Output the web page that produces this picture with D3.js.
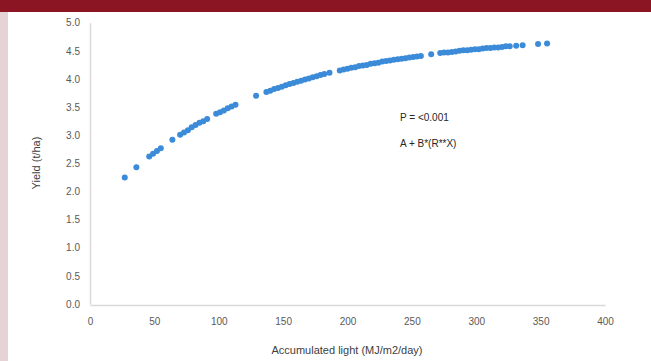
<!DOCTYPE html>
<html>
<head>
<meta charset="utf-8">
<script src="https://cdn.jsdelivr.net/npm/d3@7"></script>
<style>
  body { margin: 0; background: #fff; }
  text { font-family: "Liberation Sans", Arial, sans-serif; }
</style>
</head>
<body>
<div id="svg"></div>
<script>
// accumulated light (MJ/m2/day)
let lightValues = [27, 36, 46, 49, 52, 55, 64, 70, 73, 76, 79, 82, 85, 88, 91,
  98, 101, 104, 107, 110, 113, 129, 137, 140, 143, 146, 149, 152, 155, 158,
  161, 164, 167, 170, 173, 176, 179, 182, 186, 194, 197, 200, 203, 206, 209,
  212, 215, 218, 221, 224, 227, 230, 233, 236, 239, 242, 245, 248, 251, 254,
  257, 265, 272, 275, 278, 281, 284, 287, 290, 293, 296, 299, 302, 305, 308,
  311, 314, 317, 320, 323, 326, 331, 336, 348, 355];
// yield (t/ha)
let yieldValues = [2.25, 2.43, 2.62, 2.67, 2.72, 2.77, 2.92, 3.01, 3.05, 3.09, 3.14, 3.18, 3.22, 3.25, 3.29,
  3.38, 3.41, 3.44, 3.48, 3.51, 3.54, 3.70, 3.77, 3.79, 3.82, 3.84, 3.86, 3.89, 3.91, 3.93,
  3.95, 3.97, 3.99, 4.01, 4.03, 4.05, 4.07, 4.09, 4.11, 4.15, 4.17, 4.18, 4.20, 4.21, 4.23,
  4.24, 4.25, 4.27, 4.28, 4.29, 4.31, 4.32, 4.33, 4.34, 4.35, 4.36, 4.37, 4.38, 4.39, 4.40,
  4.41, 4.44, 4.46, 4.47, 4.47, 4.48, 4.49, 4.50, 4.51, 4.51, 4.52, 4.53, 4.53, 4.54, 4.55,
  4.55, 4.56, 4.56, 4.57, 4.58, 4.58, 4.59, 4.60, 4.62, 4.63];
let xTicks = [0, 50, 100, 150, 200, 250, 300, 350, 400];
let yTicks = [0, 0.5, 1, 1.5, 2, 2.5, 3, 3.5, 4, 4.5, 5];
let notes = ['P = <0.001', 'A + B*(R**X)'];

function makeGraph(){
  let w = 651;
  let h = 361;

  let svg = d3.select('#svg').append('svg').attr('width', w).attr('height', h);

  // page frame: red band on top, pink strip on the left
  svg.append('rect').attr('x', 0).attr('y', 0).attr('width', w).attr('height', 12).style('fill', '#8b1522');
  svg.append('rect').attr('x', 0).attr('y', 12).attr('width', 8).attr('height', h - 12).style('fill', '#e6d3d6');

  let xScale = d3.scaleLinear().domain([0, 400]).range([90, 605]);
  let yScale = d3.scaleLinear().domain([0, 5]).range([304, 22.7]);

  let xAxis = d3.axisBottom(xScale).tickValues(xTicks).tickSize(0).tickPadding(13)
                .tickFormat(d3.format('d'));
  let xAxisGroup = svg.append('g')
                  .attr('transform', `translate(0, 305)`)
                  .call(xAxis);

  let yAxis = d3.axisLeft(yScale).tickValues(yTicks).tickSize(0).tickPadding(10)
                .tickFormat(d3.format('.1f'));
  let yAxisGroup = svg.append('g')
                  .attr('transform', `translate(90, 0)`)
                  .call(yAxis);

  [xAxisGroup, yAxisGroup].forEach(g => {
    g.select('.domain').style('stroke', '#d9d9d9').style('stroke-width', 1.5);
    g.selectAll('text').style('font-size', '10px').style('fill', '#595959')
      .style('font-family', '"Liberation Sans", Arial, sans-serif');
  });

  svg.selectAll('circle')
    .data(lightValues)
    .enter()
      .append('circle')
      .attr('cx', (d) => xScale(d))
      .attr('cy', (d, i) => yScale(yieldValues[i]))
      .attr('r', 3)
      .style('fill', '#3b8bd8');

  svg.selectAll('.note')
    .data(notes)
    .enter()
      .append('text')
      .classed('note', true)
      .attr('x', 400)
      .attr('y', (d, i) => 121 + i * 26)
      .style('font-size', '10px')
      .style('fill', '#262626')
      .text((d) => d);

  svg.append('text')
    .attr('transform', 'rotate(-90)')
    .attr('x', -163)
    .attr('y', 40)
    .attr('text-anchor', 'middle')
    .style('font-size', '11px')
    .style('fill', '#404040')
    .text('Yield (t/ha)');

  svg.append('text')
    .attr('x', 347)
    .attr('y', 354)
    .attr('text-anchor', 'middle')
    .style('font-size', '11px')
    .style('fill', '#404040')
    .text('Accumulated light (MJ/m2/day)');
}

window.onload = function(){
  makeGraph();
}
</script>
</body>
</html>
